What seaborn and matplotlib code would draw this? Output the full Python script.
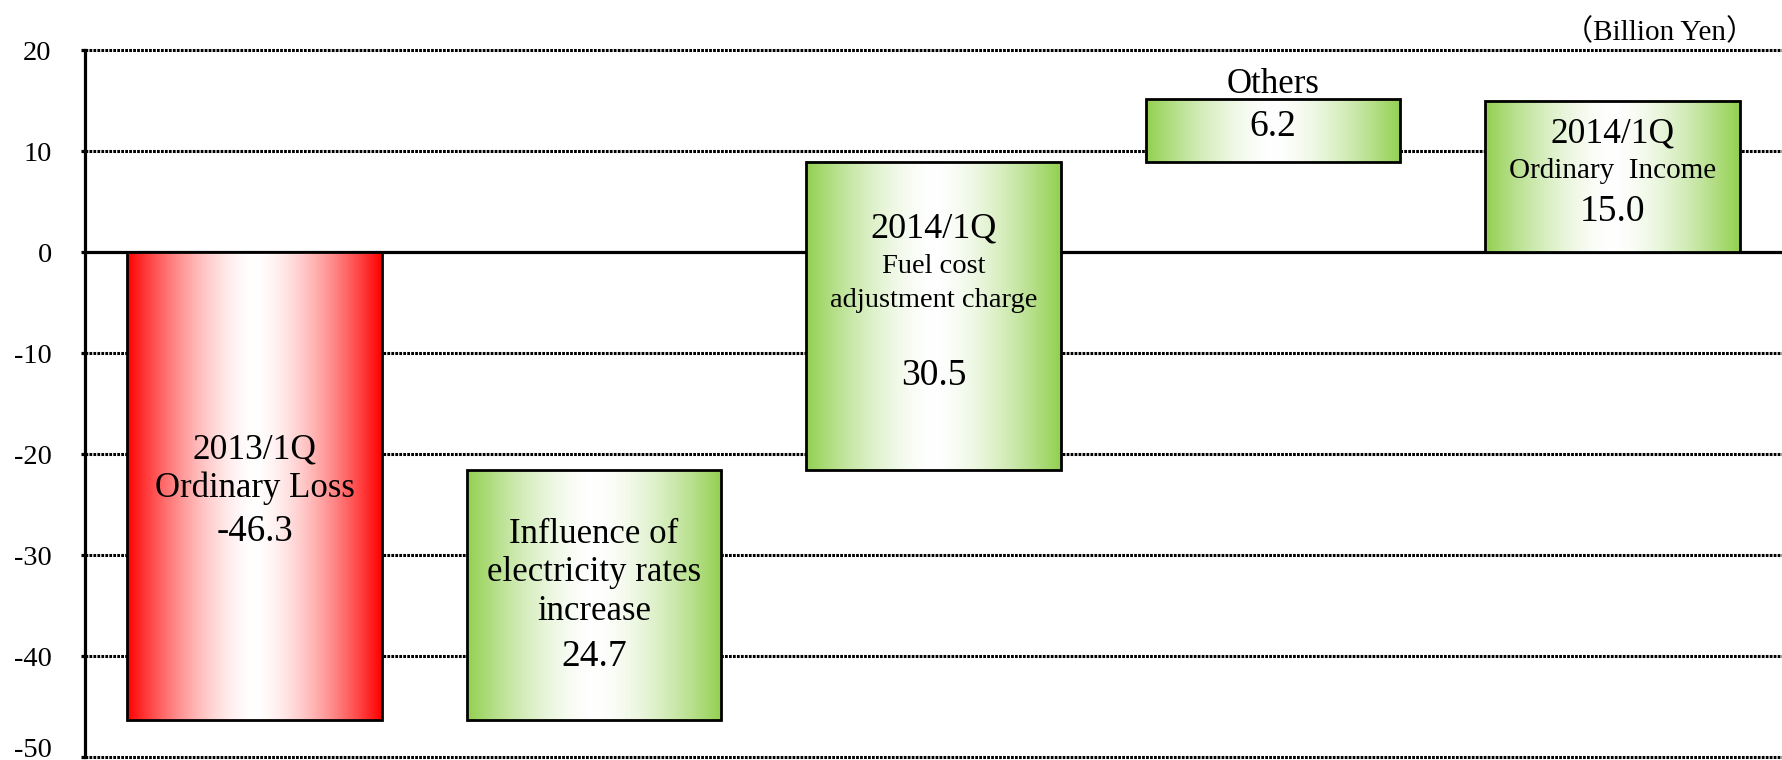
import numpy as np
import pandas as pd
import matplotlib
matplotlib.use("Agg")
import matplotlib.pyplot as plt
import seaborn as sns

# ---------------- data ----------------
categories = ["2013/1Q Ordinary Loss", "Influence of electricity rates increase",
              "Fuel cost adjustment charge", "Others", "2014/1Q Ordinary Income"]
start_value = -46.3
deltas = [24.7, 30.5, 6.2]
end_value = 15.0
yticks = [-50, -40, -30, -20, -10, 0, 10, 20]
unit_label = "（Billion Yen）"

# label lines per bar: (text, baseline y, fontsize)
bar_labels = [
    [("2013/1Q", -20.4, 25.5), ("Ordinary Loss", -24.3, 25), ("-46.3", -28.6, 26.5)],
    [("Influence of", -28.8, 25), ("electricity rates", -32.6, 25), ("increase", -36.4, 25),
     ("24.7", -41.0, 27)],
    [("2014/1Q", 1.4, 26), ("Fuel cost", -2.1, 20.5), ("adjustment charge", -5.4, 20.5),
     ("30.5", -13.2, 27)],
    [("Others", 15.7, 25), ("6.2", 11.5, 27)],
    [("2014/1Q", 10.8, 25.5), ("Ordinary  Income", 7.3, 21), ("15.0", 3.1, 27)],
]
edge_colors = ["#FF0000", "#92D050", "#92D050", "#92D050", "#92D050"]

# waterfall geometry from the data
heights = [start_value] + deltas + [end_value]
bottoms = [0.0]
running = start_value
for d in deltas:
    bottoms.append(running)
    running += d
bottoms.append(0.0)

df = pd.DataFrame({"category": categories, "height": heights, "bottom": bottoms})

# ---------------- figure ----------------
sns.set_theme(style="white")
plt.rcParams["font.family"] = ["Liberation Serif", "Noto Sans CJK JP", "DejaVu Sans"]

fig = plt.figure(figsize=(17.82, 7.60), dpi=100)
ax = fig.add_axes([0.0477, 0.0039, 0.9523, 0.9303])

sns.barplot(data=df, x="category", y="height", bottom=df["bottom"].values,
            width=0.75, color="white", edgecolor="black", linewidth=2.0,
            ax=ax, zorder=3)

# gradient fills (edge colour -> white centre -> edge colour)
n = 256
t = np.abs(np.linspace(-1, 1, n)) ** 1.6
for patch, col in zip(ax.patches, edge_colors):
    rgb = np.array(matplotlib.colors.to_rgb(col))
    grad = (1 - t)[:, None] * np.ones(3) + t[:, None] * rgb
    img = grad[None, :, :]
    x0 = patch.get_x()
    w = patch.get_width()
    y = patch.get_y()
    h = patch.get_height()
    ax.imshow(img, extent=(x0, x0 + w, min(y, y + h), max(y, y + h)),
              aspect="auto", zorder=2, interpolation="bilinear")
    patch.set_facecolor("none")

# gridlines
for v in yticks:
    if v == 0:
        ax.axhline(v, color="black", lw=2.3, zorder=1, clip_on=False)
    else:
        ax.axhline(v, color="black", lw=2.2, ls=(0, (0.9, 0.4)), zorder=1, clip_on=False)

# labels in bars
for i, lines in enumerate(bar_labels):
    for text, yy, fs in lines:
        ax.text(i, yy, text, ha="center", va="baseline", fontsize=fs,
                color="black", zorder=5)

ax.text(0.984, 1.025, unit_label, transform=ax.transAxes, ha="right", va="center",
        fontsize=21, color="black")

ax.set_xlim(-0.5, 4.5)
ax.set_ylim(-50, 20)
ax.set_yticks(yticks)
ax.set_yticklabels([str(v) for v in yticks], fontsize=20.5)
ax.set_xticks([])
ax.set_xlabel("")
ax.set_ylabel("")
for s in ["top", "right", "bottom"]:
    ax.spines[s].set_visible(False)
ax.spines["left"].set_color("black")
ax.spines["left"].set_linewidth(2.3)
ax.tick_params(axis="y", length=3, width=2.3, pad=21, colors="black", left=True)
# lowest label sits on its tick line (as in the reference)
ax.yaxis.get_major_ticks()[0].label1.set_verticalalignment("baseline")

fig.savefig("out.png", dpi=100)
